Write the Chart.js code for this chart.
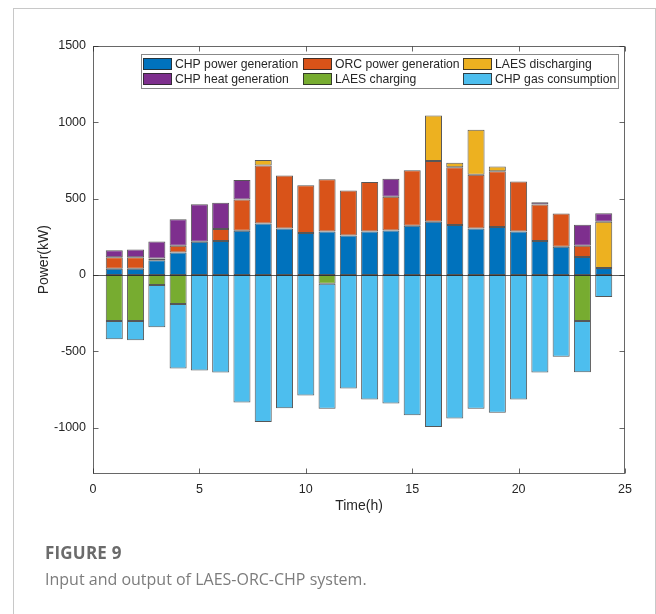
<!DOCTYPE html>
<html>
<head>
<meta charset="utf-8">
<script src="https://cdn.jsdelivr.net/npm/chart.js@4/dist/chart.umd.min.js"></script>
<style>
  html, body { margin: 0; padding: 0; background: #fff; }
  #wrap { position: relative; width: 656px; height: 614px; overflow: hidden; }
  #frame { position: absolute; left: 13px; top: 8px; width: 641px; height: 700px;
           border: 1px solid #c8c8c8; border-bottom: none; }
  #chart { position: absolute; left: 0; top: 0; }
  #fig { position: absolute; left: 45px; top: 541px; font-family: "Open Sans", sans-serif;
         font-weight: 700; font-size: 17px; color: #6b6b6b; letter-spacing: 0.2px; }
  #cap { position: absolute; left: 45px; top: 568px; font-family: "Open Sans", sans-serif;
         font-size: 16px; color: #7c7c7c; }
</style>
</head>
<body>
<div id="wrap">
  <div id="frame"></div>
  <canvas id="chart" width="656" height="614"></canvas>
  <div id="fig">FIGURE 9</div>
  <div id="cap">Input and output of LAES-ORC-CHP system.</div>
</div>
<script>
// Hourly power flows (kW)
const hours = [1, 2, 3, 4, 5, 6, 7, 8, 9, 10, 11, 12, 13, 14, 15, 16, 17, 18, 19, 20, 21, 22, 23, 24];
const chpPower      = [41, 41, 96, 148, 218, 222, 290, 338, 305, 275, 285, 259, 285, 292, 322, 349, 327, 305, 314, 285, 222, 185, 118, 46];
const orcPower      = [75, 75, 13, 44, 0, 79, 205, 379, 346, 313, 342, 294, 325, 220, 364, 398, 379, 351, 366, 327, 240, 218, 74, 0];
const laesDischarge = [0, 0, 0, 0, 0, 0, 0, 37, 0, 0, 0, 0, 0, 0, 0, 297, 30, 296, 30, 0, 0, 0, 0, 303];
const chpHeat       = [47, 51, 111, 174, 246, 172, 128, 0, 0, 0, 0, 0, 0, 118, 0, 0, 0, 0, 0, 0, 15, 0, 137, 56];
const laesCharge    = [-301, -301, -65, -190, 0, 0, 0, 0, 0, 0, -57, 0, 0, 0, 0, 0, 0, 0, 0, 0, 0, 0, -301, 0];
const gasUse        = [-120, -126, -277, -422, -625, -638, -835, -963, -872, -789, -819, -743, -815, -841, -918, -996, -939, -876, -902, -815, -638, -536, -336, -144];

const xTicks = [0, 5, 10, 15, 20, 25];
const yTicks = [-1000, -500, 0, 500, 1000, 1500];

const seriesNames = ['CHP power generation', 'ORC power generation', 'LAES discharging',
                     'CHP heat generation', 'LAES charging', 'CHP gas consumption'];
const seriesColors = ['#0072BD', '#D95319', '#EDB120', '#7E2F8E', '#77AC30', '#4DBEEE'];
const seriesValues = [chpPower, orcPower, laesDischarge, chpHeat, laesCharge, gasUse];

const AXIS_FONT = '"Liberation Sans", Arial, sans-serif';
const INK = '#262626';

const datasets = seriesValues.map((vals, i) => ({
  label: seriesNames[i],
  data: hours.map((h, j) => ({ x: h, y: vals[j] })),
  backgroundColor: seriesColors[i],
  borderColor: 'rgba(45,45,45,0.8)',
  borderWidth: 1,
  borderSkipped: false,
  categoryPercentage: 1,
  barPercentage: 0.8
}));

// Box, inward ticks, zero baseline and legend
const boxPlugin = {
  id: 'matlabBox',
  afterDatasetsDraw(chart) {
    const { ctx, chartArea: a, scales: { x, y } } = chart;
    ctx.save();
    // baseline at zero
    const y0 = Math.round(y.getPixelForValue(0)) + 0.5;
    ctx.strokeStyle = 'rgba(38,38,38,0.75)';
    ctx.lineWidth = 1;
    ctx.beginPath(); ctx.moveTo(a.left, y0); ctx.lineTo(a.right, y0); ctx.stroke();

    // axes box
    ctx.strokeStyle = 'rgba(38,38,38,0.7)';
    const L = Math.round(a.left) + 0.5, R = Math.round(a.right) - 0.5;
    const T = Math.round(a.top) + 0.5, B = Math.round(a.bottom) - 0.5;
    ctx.strokeRect(L, T, R - L, B - T);

    // inward tick marks on all four sides
    const tl = 5;
    ctx.beginPath();
    xTicks.forEach(v => {
      const px = Math.round(x.getPixelForValue(v)) + 0.5;
      ctx.moveTo(px, B); ctx.lineTo(px, B - tl);
      ctx.moveTo(px, T); ctx.lineTo(px, T + tl);
    });
    yTicks.forEach(v => {
      const py = Math.round(y.getPixelForValue(v)) + 0.5;
      ctx.moveTo(L, py); ctx.lineTo(L + tl, py);
      ctx.moveTo(R, py); ctx.lineTo(R - tl, py);
    });
    ctx.stroke();

    // legend inside the axes, three columns
    const lx = 141, ly = 54, lw = 477, lh = 34;
    ctx.fillStyle = '#fff';
    ctx.fillRect(lx, ly, lw, lh);
    ctx.strokeStyle = 'rgba(38,38,38,0.55)';
    ctx.strokeRect(lx + 0.5, ly + 0.5, lw, lh);
    const colX = [143, 303, 463];
    const rowY = [64, 79];
    ctx.font = '12.2px ' + AXIS_FONT;
    ctx.textBaseline = 'middle';
    ctx.textAlign = 'left';
    chart.data.datasets.forEach((ds, i) => {
      const cx = colX[i % 3], cy = rowY[Math.floor(i / 3)];
      ctx.fillStyle = ds.backgroundColor;
      ctx.fillRect(cx, cy - 6, 29, 12);
      ctx.strokeStyle = 'rgba(40,40,40,0.85)';
      ctx.strokeRect(cx + 0.5, cy - 5.5, 28, 11);
      ctx.fillStyle = INK;
      ctx.fillText(ds.label, cx + 32, cy + 0.5);
    });
    ctx.restore();
  }
};

new Chart(document.getElementById('chart'), {
  type: 'bar',
  data: { datasets },
  plugins: [boxPlugin],
  options: {
    responsive: false,
    animation: false,
    layout: { padding: { top: 46, right: 31, left: 0, bottom: 0 } },
    plugins: { legend: { display: false }, tooltip: { enabled: false } },
    scales: {
      x: {
        type: 'linear',
        min: 0, max: 25,
        offset: false,
        stacked: true,
        grid: { display: false, drawTicks: false },
        border: { display: false },
        afterBuildTicks: s => { s.ticks = xTicks.map(v => ({ value: v })); },
        afterFit: s => { s.height = 140.5; },
        ticks: { color: INK, padding: 9, maxRotation: 0, callback: v => String(v),
                 font: { family: AXIS_FONT, size: 12.5 } },
        title: { display: true, text: 'Time(h)', color: INK,
                 font: { family: AXIS_FONT, size: 14 }, padding: { top: 0, bottom: 99 } }
      },
      y: {
        type: 'linear',
        min: -1300, max: 1500,
        stacked: true,
        grid: { display: false, drawTicks: false },
        border: { display: false },
        afterBuildTicks: s => { s.ticks = yTicks.map(v => ({ value: v })); },
        afterFit: s => { s.width = 93; },
        ticks: { color: INK, padding: 7, callback: v => String(v),
                 font: { family: AXIS_FONT, size: 12.5 } },
        title: { display: true, text: 'Power(kW)', color: INK,
                 font: { family: AXIS_FONT, size: 14 }, padding: { top: 36, bottom: 0 } }
      }
    }
  }
});
</script>
</body>
</html>
